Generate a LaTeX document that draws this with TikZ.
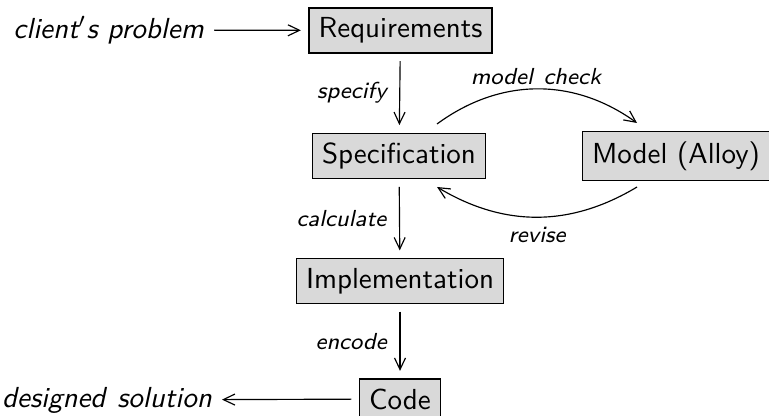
\documentclass[tikz,border=0pt]{standalone}
\usetikzlibrary{calc,arrows.meta}
\begin{document}
\begin{tikzpicture}[x=0.345pt,y=-0.345pt,
  font=\sffamily,
  box/.style={draw, fill=gray!30, inner sep=3.33pt, outer sep=2.8pt, font=\sffamily},
  lbl/.style={font=\sffamily\itshape\footnotesize},
  ext/.style={font=\sffamily\itshape},
  flow/.style={-{Straight Barb[length=4pt,width=3.8pt]}, line width=0.4pt}]
\useasboundingbox (0,0) rectangle (769,416);
\node[box] (req) at (400.5,30.5) {Requirements};
\node[box] (spec) at (399,156) {Specification};
\node[box] (model) at (676,156) {Model (Alloy)};
\node[box] (impl) at (400,281) {Implementation};
\node[box] (code) at (400,399) {Code};
\node[ext, anchor=east] (client) at (214,30) {client$'$s problem};
\node[ext, anchor=east] (sol) at (222,400) {designed\hspace{0.8pt} solution};
\coordinate (s1) at ($(spec.center)+(38,-32)$);
\coordinate (m1) at ($(model.center)+(-39,-33)$);
\coordinate (m2) at ($(model.center)+(-39,31)$);
\coordinate (s2) at ($(spec.center)+(38,31)$);
\draw[flow] (client) -- (req);
\draw[flow] (req) -- node[lbl, left, xshift=-1pt] (lspec) {specify} (spec);
\draw[flow] (spec) -- node[lbl, left, xshift=-1pt] (lcalc) {calculate} (impl);
\draw[flow] (impl) -- node[lbl, left, xshift=-1pt] (lenc) {encode} (code);
\draw[flow] (code) -- (sol);
\draw[flow] (s1) to[bend left=36] (m1);
\draw[flow] (m2) to[bend left=31] (s2);
\node[lbl] (lmc) at (536,77) {model\hspace{0.8pt} check};
\node[lbl] (lrev) at (537,235) {revise};
\end{tikzpicture}
\end{document}
